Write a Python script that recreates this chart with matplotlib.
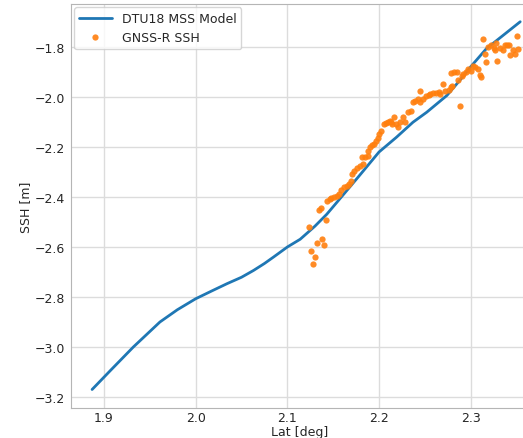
import matplotlib
matplotlib.use("Agg")
import matplotlib.pyplot as plt
import seaborn as sns

# DTU18 mean sea surface model along the track
model_lat = [1.887, 1.907, 1.932, 1.961, 1.980, 2.000, 2.018, 2.034, 2.050,
             2.063, 2.075, 2.085, 2.100, 2.114, 2.130, 2.143, 2.158, 2.178,
             2.200, 2.219, 2.237, 2.252, 2.274, 2.288, 2.300, 2.317, 2.354]
model_ssh = [-3.171, -3.095, -3.001, -2.901, -2.852, -2.808, -2.776, -2.748,
             -2.722, -2.695, -2.667, -2.641, -2.601, -2.570, -2.518, -2.470,
             -2.405, -2.318, -2.221, -2.162, -2.102, -2.062, -1.995, -1.935,
             -1.880, -1.808, -1.700]

# GNSS-R sea surface height retrievals
gnss_lat = [2.128, 2.130, 2.126, 2.132, 2.138, 2.140, 2.124, 2.142, 2.134,
            2.137, 2.143, 2.146, 2.148, 2.151, 2.154, 2.156, 2.159, 2.162,
            2.165, 2.167, 2.169, 2.171, 2.173, 2.176, 2.179, 2.183, 2.181,
            2.185, 2.188, 2.188, 2.190, 2.192, 2.195, 2.197, 2.199, 2.200,
            2.202, 2.205, 2.208, 2.210, 2.213, 2.216, 2.219, 2.221, 2.212,
            2.214, 2.223, 2.226, 2.228, 2.232, 2.235, 2.237, 2.239, 2.242,
            2.245, 2.245, 2.248, 2.251, 2.254, 2.256, 2.259, 2.262, 2.265,
            2.267, 2.270, 2.272, 2.276, 2.278, 2.280, 2.279, 2.282, 2.285,
            2.288, 2.286, 2.290, 2.292, 2.295, 2.297, 2.300, 2.303, 2.305,
            2.308, 2.310, 2.311, 2.313, 2.316, 2.317, 2.319, 2.322, 2.325,
            2.328, 2.327, 2.329, 2.332, 2.335, 2.337, 2.340, 2.342, 2.343,
            2.346, 2.348, 2.351, 2.352]
gnss_ssh = [-2.669, -2.640, -2.618, -2.585, -2.568, -2.592, -2.520, -2.493,
            -2.453, -2.446, -2.416, -2.409, -2.406, -2.402, -2.398, -2.389,
            -2.371, -2.362, -2.358, -2.349, -2.336, -2.309, -2.296, -2.283,
            -2.276, -2.267, -2.239, -2.239, -2.236, -2.218, -2.202, -2.193,
            -2.190, -2.176, -2.166, -2.149, -2.136, -2.109, -2.106, -2.102,
            -2.099, -2.082, -2.109, -2.122, -2.095, -2.109, -2.102, -2.082,
            -2.102, -2.060, -2.056, -2.022, -2.016, -2.009, -2.020, -1.978,
            -2.009, -1.998, -1.993, -1.989, -1.985, -1.985, -1.982, -1.989,
            -1.949, -1.975, -1.971, -1.961, -1.955, -1.904, -1.899, -1.901,
            -2.037, -1.931, -1.915, -1.908, -1.901, -1.888, -1.895, -1.877,
            -1.881, -1.888, -1.912, -1.921, -1.767, -1.827, -1.861, -1.800,
            -1.791, -1.804, -1.783, -1.814, -1.858, -1.804, -1.814, -1.791,
            -1.791, -1.794, -1.831, -1.814, -1.827, -1.756, -1.810]

sns.set_style("whitegrid")
plt.rcParams["font.family"] = ["DejaVu Sans"]
plt.rcParams["axes.edgecolor"] = "#b5b5b5"
plt.rcParams["grid.color"] = "#dcdcdc"
plt.rcParams["grid.linewidth"] = 1.0
plt.rcParams["text.color"] = "#262626"
plt.rcParams["xtick.major.size"] = 0
plt.rcParams["ytick.major.size"] = 0

fig = plt.figure(figsize=(5.23, 4.39), dpi=100)
ax = fig.add_axes([71 / 523, 30 / 439, 457 / 523, 404 / 439])

ax.plot(model_lat, model_ssh, color="#1f77b4", lw=2, label="DTU18 MSS Model")
ax.plot(gnss_lat, gnss_ssh, "o", color="#ff7f0e", ms=4.5, alpha=0.9,
        markeredgewidth=0, label="GNSS-R SSH")

ax.set_xlim(1.864, 2.3625)
ax.set_ylim(-3.245, -1.629)
ax.set_xticks([1.9, 2.0, 2.1, 2.2, 2.3])
ax.set_yticks([-3.2, -3.0, -2.8, -2.6, -2.4, -2.2, -2.0, -1.8])
ax.tick_params(axis="x", length=0, labelsize=9, pad=2, colors="#262626")
ax.tick_params(axis="y", length=0, labelsize=9, pad=4, colors="#262626")
ax.set_xlabel("Lat [deg]", fontsize=9, labelpad=1)
ax.set_ylabel("SSH [m]", fontsize=9, labelpad=2)
leg = ax.legend(loc="upper left", fontsize=9, frameon=True,
                borderaxespad=0.25, handlelength=2.6)
leg.get_frame().set_edgecolor("#cccccc")

fig.savefig("out.png", dpi=100)
